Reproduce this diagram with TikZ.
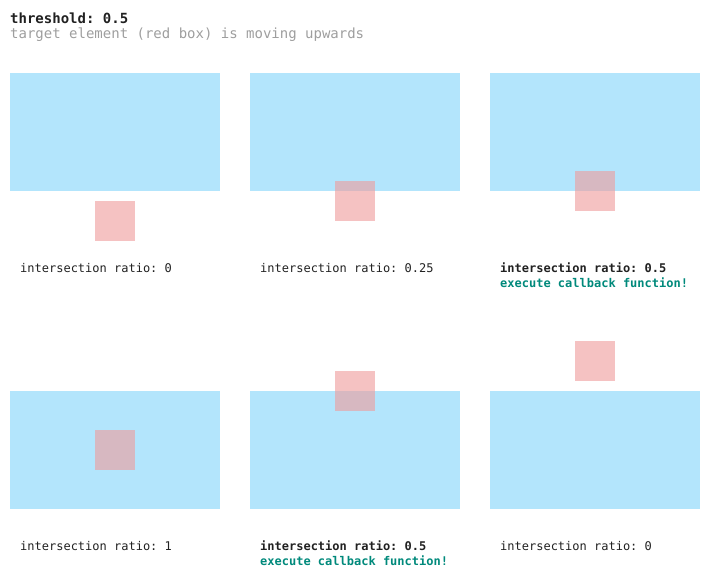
\documentclass[tikz,border=0pt]{standalone}
\usepackage{fontspec}
\setmainfont{DejaVu Sans Mono}
\frenchspacing
\definecolor{viewblue}{HTML}{B3E5FC}
\definecolor{targetred}{HTML}{EF9A9A}
\definecolor{textdark}{HTML}{212121}
\definecolor{textgray}{HTML}{9E9E9E}
\definecolor{callback}{HTML}{00897B}

\tikzstyle{every node}=[inner sep=0pt,node distance=240pt]
\tikzstyle{view}=[rectangle, fill=viewblue, minimum width=210pt, minimum height=117.5pt]
\tikzstyle{target}=[rectangle, fill=targetred, fill opacity=0.6, minimum size=40pt]
\tikzstyle{ratio}=[anchor=base west, text=textdark, font=\fontsize{12}{14}\selectfont]
\tikzstyle{hit}=[ratio, font=\fontsize{12}{14}\selectfont\bfseries]
\tikzstyle{fire}=[hit, text=callback]

\begin{document}
\begin{tikzpicture}[x=1pt,y=-1pt]
\useasboundingbox (0,0) rectangle (710,579);

\node [anchor=base west, text=textdark, font=\fontsize{14}{16}\selectfont\bfseries] (title) at (10,23) {threshold: 0.5};
\node [anchor=base west, text=textgray, font=\fontsize{14}{16}\selectfont] (subtitle) at (10,38) {target element (red box) is moving upwards};

\node [view] (view1) at (115,131.75) {};
\node [view,right of=view1] (view2) {};
\node [view,right of=view2] (view3) {};
\node [view,below of=view1,node distance=318pt] (view4) {};
\node [view,right of=view4] (view5) {};
\node [view,right of=view5] (view6) {};

\node [target] (target1) at (115,221) {};
\node [target] (target2) at (355,200.75) {};
\node [target] (target3) at (595,190.75) {};
\node [target] (target4) at (115,450) {};
\node [target] (target5) at (355,391) {};
\node [target] (target6) at (595,361) {};

\node [ratio] (ratio1) at (20,272.5) {intersection ratio: 0};
\node [ratio] (ratio2) at (260,272.5) {intersection ratio: 0.25};
\node [hit] (ratio3) at (500,272.5) {intersection ratio: 0.5};
\node [fire] (fire3) at (500,287.5) {execute callback function!};

\node [ratio] (ratio4) at (20,550) {intersection ratio: 1};
\node [hit] (ratio5) at (260,550) {intersection ratio: 0.5};
\node [fire] (fire5) at (260,565) {execute callback function!};
\node [ratio] (ratio6) at (500,550) {intersection ratio: 0};

\end{tikzpicture}
\end{document}
